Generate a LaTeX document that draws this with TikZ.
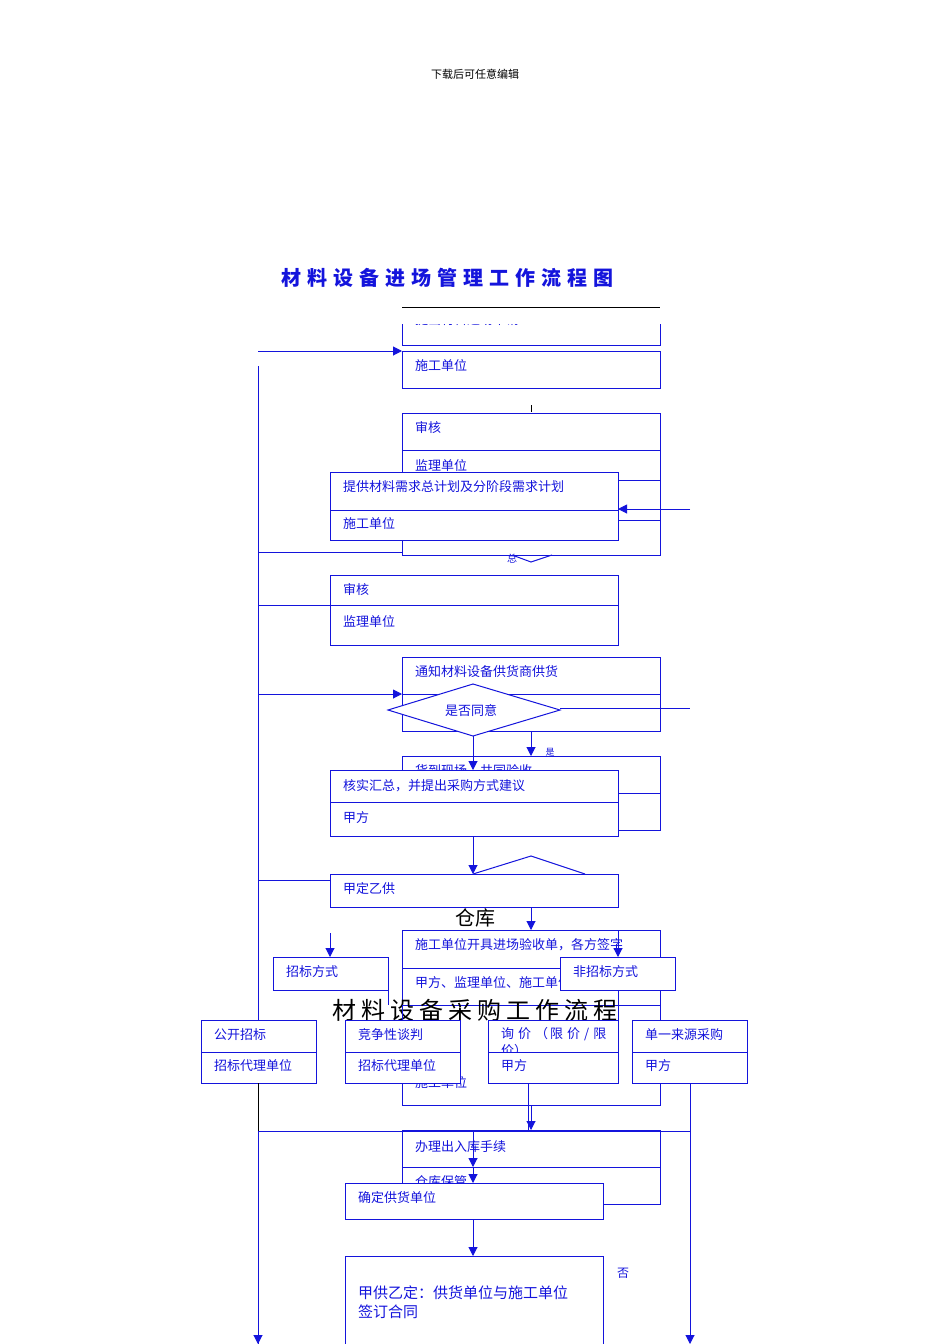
\documentclass[tikz,border=0pt]{standalone}
\usepackage{fontspec}
\setmainfont{Noto Sans CJK SC}
\usetikzlibrary{arrows.meta}
\definecolor{bl}{RGB}{20,20,220}
\begin{document}
\begin{tikzpicture}[x=1pt,y=-1pt,
  bx/.style={draw=bl,line width=1pt,fill=white},
  ln/.style={draw=bl,line width=1pt},
  ar/.style={draw=bl,line width=1pt,-{Triangle[length=9pt,width=9pt]}},
  tx/.style={anchor=west,text=bl,font=\fontsize{13}{13}\selectfont,inner sep=0pt}]
\useasboundingbox (0,0) rectangle (950,1344);
\node[font=\fontsize{11}{11}\selectfont] (hd) at (475,74) {下载后可任意编辑};
\node[text=bl,font=\bfseries\fontsize{20}{20}\selectfont] (ttl) at (447,278) {材\hspace{6pt}料\hspace{6pt}设\hspace{6pt}备\hspace{6pt}进\hspace{6pt}场\hspace{6pt}管\hspace{6pt}理\hspace{6pt}工\hspace{6pt}作\hspace{6pt}流\hspace{6pt}程\hspace{6pt}图};
\draw[line width=1pt] (402,307) -- (660,307);
% ---- back diagram
\begin{scope}
\clip (390,324) rectangle (670,1344);
\node[tx] (a0) at (415,320) {提出材料进场申请};
\end{scope}
\draw[ln] (402,324) |- (660,345) -- (660,324);
\draw[bx] (402,351) rectangle (660,388); \node[tx] (a1) at (415,366) {施工单位};
\draw[line width=0.7pt] (531,405) -- (531,412);
\draw[bx] (402,413) rectangle (660,450); \node[tx] (a2) at (415,428) {审核};
\draw[bx] (402,450) rectangle (660,555); \node[tx] (a3) at (415,466) {监理单位};
\draw[ln] (618,480) -- (660,480) (618,520) -- (660,520);
\draw[ln] (512,555) -- (531,562) -- (552,555);
\node[text=bl,font=\fontsize{10}{10}\selectfont] (zong) at (512,559) {总};
\draw[bx] (402,657) rectangle (660,694); \node[tx] (b1) at (415,672) {通知材料设备供货商供货};
\draw[bx] (402,694) rectangle (660,731);
\draw[bx] (402,756) rectangle (660,793); \node[tx] (b3) at (415,771) {货到现场，共同验收};
\draw[bx] (402,793) rectangle (660,830);
\node[text=bl,font=\fontsize{9}{9}\selectfont] (shi) at (550,752) {是};
\draw[ar] (531,731) -- (531,756);
\draw[ln] (473,874) -- (531,856) -- (585,874);
\draw[ar] (531,907) -- (531,930);
\draw[bx] (402,930) rectangle (660,968); \node[tx] (c1) at (415,945) {施工单位开具进场验收单，各方签字};
\draw[bx] (402,968) rectangle (660,1005); \node[tx] (c2) at (415,983) {甲方、监理单位、施工单位};
\node[font=\fontsize{24}{24}\selectfont] (ttl2) at (475,1010) {材\hspace{5pt}料\hspace{5pt}设\hspace{5pt}备\hspace{5pt}采\hspace{5pt}购\hspace{5pt}工\hspace{5pt}作\hspace{5pt}流\hspace{5pt}程};
\draw[ln] (402,1005) -- (402,1105) -- (660,1105) -- (660,1005);
\node[tx] (c3) at (415,1045) {材料（};
\node[tx] (c4) at (415,1083) {施工单位};
\draw[ar] (531,1105) -- (531,1130);
\draw[bx] (402,1130) rectangle (660,1167); \node[tx] (d1) at (415,1147) {办理出入库手续};
\draw[bx] (402,1167) rectangle (660,1204); \node[tx] (d2) at (415,1182) {仓库保管};
\node[text=bl,font=\fontsize{12}{12}\selectfont] (fou) at (623,1273) {否};
% ---- front diagram
\draw[ln] (258,366) -- (258,1344);
\draw[ar] (258,351) -- (402,351);
\draw[ln] (258,552) -- (402,552);
\draw[ln] (258,605) -- (330,605);
\draw[ar] (258,694) -- (402,694);
\draw[ln] (258,880) -- (330,880);
\draw[bx] (330,472) rectangle (618,510); \node[tx] (e1) at (343,487) {提供材料需求总计划及分阶段需求计划};
\draw[bx] (330,510) rectangle (618,540); \node[tx] (e2) at (343,524) {施工单位};
\draw[ar] (690,509) -- (618,509);
\draw[bx] (330,575) rectangle (618,605); \node[tx] (e3) at (343,590) {审核};
\draw[bx] (330,605) rectangle (618,645); \node[tx] (e4) at (343,621) {监理单位};
\draw[bx] (388,710) -- (473,684) -- (560,710) -- (473,736) -- cycle;
\node[text=bl,font=\fontsize{13}{13}\selectfont] (dia) at (471,711) {是否同意};
\draw[ln] (560,708) -- (690,708);
\draw[ar] (473,736) -- (473,770);
\draw[bx] (330,770) rectangle (618,802); \node[tx] (f1) at (343,786) {核实汇总，并提出采购方式建议};
\draw[bx] (330,802) rectangle (618,836); \node[tx] (f2) at (343,818) {甲方};
\draw[ar] (473,836) -- (473,874);
\draw[bx] (330,874) rectangle (618,907); \node[tx] (g1) at (343,889) {甲定乙供};
\node[font=\fontsize{20}{20}\selectfont] (ck) at (475,918) {仓库};
\draw[ar] (330,933) -- (330,957);
\draw[ar] (618,930) -- (618,957);
\draw[bx] (273,957) rectangle (388,990); \node[tx] (h1) at (286,972) {招标方式};
\draw[ln] (388,990) -- (388,1005);
\draw[bx] (560,957) rectangle (675,990); \node[tx] (h2) at (573,972) {非招标方式};
\draw[ln] (618,990) -- (618,1020);
\foreach \x/\t/\u in {201/公开招标/招标代理单位,345/竞争性谈判/招标代理单位,632/单一来源采购/甲方}{
  \draw[bx] (\x,1020) rectangle (\x+115,1052); \node[tx] at (\x+13,1035) {\t};
  \draw[bx] (\x,1052) rectangle (\x+115,1083); \node[tx] at (\x+13,1066) {\u};}
\draw[bx] (488,1020) rectangle (618,1052);
\begin{scope}\clip (488,1020) rectangle (618,1052);
\node[tx,anchor=north west,align=left,text width=108pt,font=\fontsize{13}{17}\selectfont] (xj) at (501,1027) {询\hspace{4pt}价\hspace{4pt}（\hspace{2pt}限\hspace{4pt}价\hspace{4pt}/\hspace{4pt}限\hspace{4pt}价）};
\end{scope}
\draw[bx] (488,1052) rectangle (618,1083); \node[tx] (xj2) at (501,1066) {甲方};
\draw[line width=1pt] (258,1083) -- (258,1131);
\draw[ln] (258,1131) -- (690,1131);
\draw[ln] (528,1083) -- (528,1131);
\draw[ar] (473,1130) -- (473,1167);
\draw[ar] (473,1167) -- (473,1183);
\draw[bx] (345,1183) rectangle (603,1219); \node[tx] (k1) at (358,1198) {确定供货单位};
\draw[ar] (473,1219) -- (473,1256);
\draw[bx] (345,1256) rectangle (603,1350);
\node[tx,align=left,font=\fontsize{15}{19}\selectfont] (k2) at (358,1302) {甲供乙定：供货单位与施工单位\\签订合同};
\draw[ar] (690,1083) -- (690,1344);
\draw[ar] (258,1330) -- (258,1344);
\end{tikzpicture}
\end{document}
